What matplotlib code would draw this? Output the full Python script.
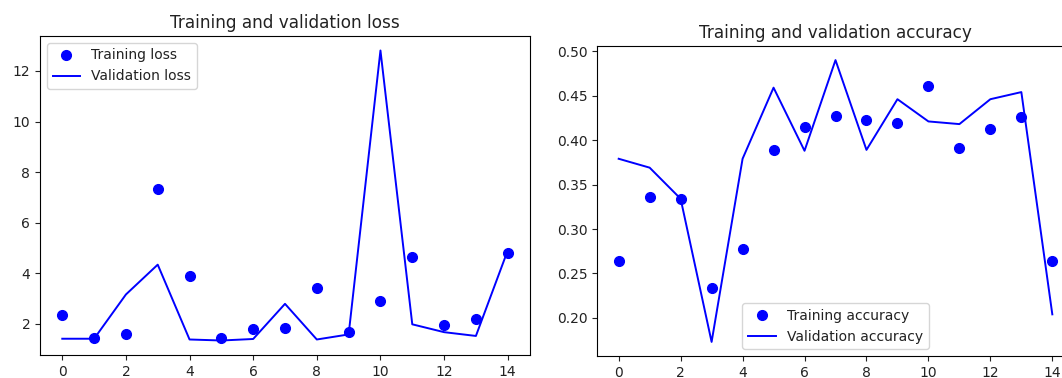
import matplotlib
matplotlib.use("Agg")
import matplotlib.pyplot as plt

epochs = list(range(15))
train_loss = [2.36, 1.43, 1.60, 7.35, 3.88, 1.43, 1.78, 1.84, 3.41, 1.66, 2.89, 4.63, 1.97, 2.18, 4.81]
val_loss = [1.41, 1.41, 3.16, 4.34, 1.38, 1.34, 1.40, 2.79, 1.38, 1.58, 12.81, 1.98, 1.67, 1.52, 4.90]
train_acc = [0.264, 0.336, 0.334, 0.234, 0.277, 0.389, 0.415, 0.427, 0.423, 0.419, 0.461, 0.391, 0.412, 0.426, 0.264]
val_acc = [0.379, 0.369, 0.334, 0.173, 0.379, 0.459, 0.388, 0.490, 0.389, 0.446, 0.421, 0.418, 0.446, 0.454, 0.204]

plt.rcParams['font.size'] = 10
plt.rcParams['font.family'] = ['DejaVu Sans']
plt.rcParams['text.color'] = '#222222'
plt.rcParams['xtick.color'] = '#222222'
plt.rcParams['ytick.color'] = '#222222'

W, H = 1062, 378
fig = plt.figure(figsize=(W / 100, H / 100), dpi=100)

def px_axes(x0, y0, x1, y1):
    return fig.add_axes([x0 / W, 1 - y1 / H, (x1 - x0) / W, (y1 - y0) / H])

ax1 = px_axes(40, 36, 530, 355)
ax1.plot(epochs, train_loss, 'bo', markersize=7, label='Training loss')
ax1.plot(epochs, val_loss, 'b', linewidth=1.4, label='Validation loss')
ax1.set_title('Training and validation loss', fontsize=12.2)
ax1.legend(loc='upper left')

ax2 = px_axes(597, 46, 1074, 356)
ax2.plot(epochs, train_acc, 'bo', markersize=7, label='Training accuracy')
ax2.plot(epochs, val_acc, 'b', linewidth=1.4, label='Validation accuracy')
ax2.set_title('Training and validation accuracy', fontsize=12.2)
ax2.legend(loc='lower center')

for ax in (ax1, ax2):
    ax.set_xticks(range(0, 15, 2))

fig.savefig('out.png', dpi=100)
